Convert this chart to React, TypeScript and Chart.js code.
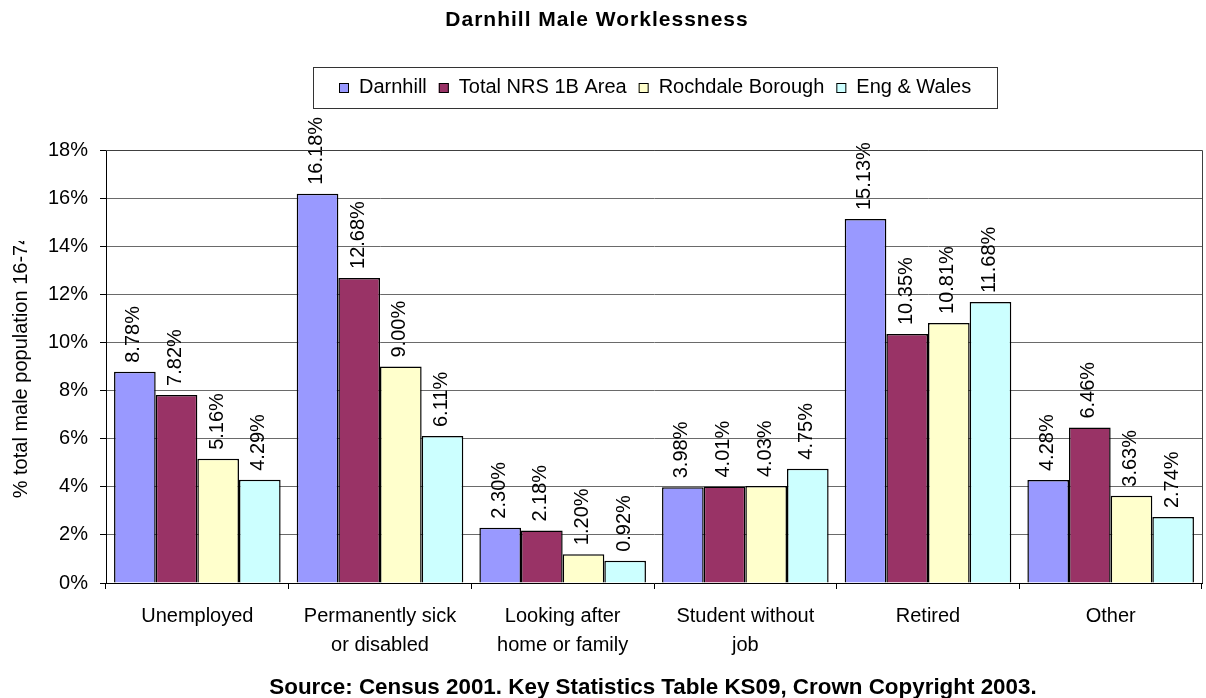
import React, { useEffect, useRef } from 'react';
import { Chart, registerables } from 'chart.js';

Chart.register(...registerables);

const FONT = '"Liberation Sans", Arial, sans-serif';

const categories: string[][] = [
  ['Unemployed'],
  ['Permanently sick', 'or disabled'],
  ['Looking after', 'home or family'],
  ['Student without', 'job'],
  ['Retired'],
  ['Other'],
];
const seriesNames = ['Darnhill', 'Total NRS 1B Area', 'Rochdale Borough', 'Eng & Wales'];
const darnhill = [8.78, 16.18, 2.3, 3.98, 15.13, 4.28];
const totalNrs = [7.82, 12.68, 2.18, 4.01, 10.35, 6.46];
const rochdale = [5.16, 9.0, 1.2, 4.03, 10.81, 3.63];
const engWales = [4.29, 6.11, 0.92, 4.75, 11.68, 2.74];
const seriesColors = ['#9999FF', '#993366', '#FFFFCC', '#CCFFFF'];
const yMin = 0;
const yMax = 18;
const yStep = 2;
const titleText = 'Darnhill Male Worklessness';
const yTitleText = '% total male population 16-74';
const sourceText = 'Source: Census 2001. Key Statistics Table KS09, Crown Copyright 2003.';

const decorPlugin = {
  id: 'decor',
  afterDatasetsDraw(chart: any) {
    const ctx = chart.ctx as CanvasRenderingContext2D;
    ctx.save();
    ctx.font = `20px ${FONT}`;
    ctx.fillStyle = '#000';
    chart.data.datasets.forEach((ds: any, i: number) => {
      const meta = chart.getDatasetMeta(i);
      meta.data.forEach((bar: any, j: number) => {
        const v = ds.data[j] as number;
        ctx.save();
        ctx.translate(bar.x - 1, bar.y - 9);
        ctx.rotate(-Math.PI / 2);
        ctx.textAlign = 'left';
        ctx.textBaseline = 'middle';
        ctx.fillText(v.toFixed(2) + '%', 0, 0);
        ctx.restore();
      });
    });
    ctx.restore();
  },
  afterDraw(chart: any) {
    const ctx = chart.ctx as CanvasRenderingContext2D;
    const area = chart.chartArea;
    ctx.save();
    // plot border (top/right)
    ctx.strokeStyle = '#404040';
    ctx.lineWidth = 1;
    ctx.beginPath();
    ctx.moveTo(area.left, area.top + 0.5);
    ctx.lineTo(area.right + 0.5, area.top + 0.5);
    ctx.lineTo(area.right + 0.5, area.bottom);
    ctx.stroke();

    // title
    ctx.fillStyle = '#000';
    ctx.font = `bold 21px ${FONT}`;
    (ctx as any).letterSpacing = '1px';
    ctx.textAlign = 'center';
    ctx.textBaseline = 'middle';
    ctx.fillText(titleText, 597, 20);
    (ctx as any).letterSpacing = '0px';

    // legend
    ctx.font = `20px ${FONT}`;
    const widths = seriesNames.map((n) => ctx.measureText(n).width);
    const sq = 10;
    const sqGap = 10;
    const itemGap = 12;
    const content = widths.reduce((a, w) => a + sq + sqGap + w, 0) + itemGap * (seriesNames.length - 1);
    const boxL = 313;
    const boxR = 997;
    const boxT = 67;
    const boxB = 108;
    ctx.strokeStyle = '#333';
    ctx.strokeRect(boxL + 0.5, boxT + 0.5, boxR - boxL, boxB - boxT);
    const cy = 87.5;
    let x = Math.round((boxL + boxR) / 2 - content / 2);
    ctx.textAlign = 'left';
    seriesNames.forEach((n, i) => {
      ctx.fillStyle = seriesColors[i];
      ctx.fillRect(x, Math.round(cy - sq / 2), sq, sq);
      ctx.strokeStyle = '#000';
      ctx.strokeRect(x + 0.5, Math.round(cy - sq / 2) + 0.5, sq - 1, sq - 1);
      ctx.fillStyle = '#000';
      ctx.fillText(n, x + sq + sqGap, cy);
      x += sq + sqGap + widths[i] + itemGap;
    });

    // y axis title (clipped like the original)
    ctx.save();
    ctx.beginPath();
    ctx.rect(0, 241, 60, 698 - 241);
    ctx.clip();
    ctx.translate(21, 366);
    ctx.rotate(-Math.PI / 2);
    ctx.textAlign = 'center';
    ctx.textBaseline = 'middle';
    ctx.font = `20px ${FONT}`;
    ctx.fillText(yTitleText, 0, 0);
    ctx.restore();

    // source
    ctx.font = `bold 22.4px ${FONT}`;
    ctx.textAlign = 'center';
    ctx.textBaseline = 'middle';
    ctx.fillText(sourceText, 653, 687.5);
    ctx.restore();
  },
};

export default function App() {
  const ref = useRef<HTMLCanvasElement>(null);
  useEffect(() => {
    const seriesValues = [darnhill, totalNrs, rochdale, engWales];
    const chart = new Chart(ref.current as HTMLCanvasElement, {
      type: 'bar',
      data: {
        labels: categories as any,
        datasets: seriesNames.map((name, i) => ({
          label: name,
          data: seriesValues[i],
          backgroundColor: seriesColors[i],
          borderColor: '#000',
          borderWidth: 1.5,
          categoryPercentage: 0.912,
          barPercentage: 1,
        })),
      },
      options: {
        responsive: false,
        animation: false,
        devicePixelRatio: 1,
        layout: { padding: { top: 150, right: 4, bottom: 0, left: 0 } },
        plugins: {
          legend: { display: false },
          title: { display: false },
          tooltip: { enabled: false },
        },
        scales: {
          x: {
            afterFit: (scale: any) => {
              scale.height = 115;
            },
            grid: {
              display: true,
              drawOnChartArea: false,
              tickLength: 6,
              tickColor: '#000',
              offset: true,
            },
            border: { display: true, color: '#000', width: 1 },
            ticks: {
              color: '#000',
              font: { family: FONT, size: 20, lineHeight: 1.45 },
              padding: 13,
              maxRotation: 0,
              autoSkip: false,
            },
          },
          y: {
            min: yMin,
            max: yMax,
            afterFit: (scale: any) => {
              scale.width = 106;
            },
            grid: {
              color: '#6a6a6a',
              tickColor: '#000',
              tickLength: 6,
              lineWidth: 1,
            },
            border: { display: true, color: '#000', width: 1 },
            ticks: {
              stepSize: yStep,
              color: '#000',
              font: { family: FONT, size: 20 },
              padding: 12,
              callback: (v: any) => `${v}%`,
            },
          },
        },
      },
      plugins: [decorPlugin],
    });
    return () => chart.destroy();
  }, []);
  return (
    <div style={{ position: 'fixed', left: 0, top: 0, width: 1206, height: 698, background: '#fff' }}>
      <canvas ref={ref} width={1206} height={698} style={{ display: 'block' }} />
    </div>
  );
}
